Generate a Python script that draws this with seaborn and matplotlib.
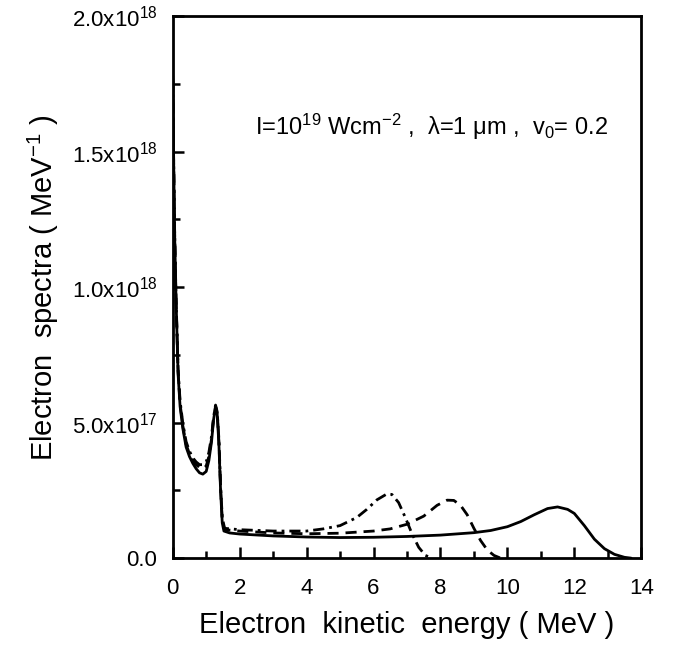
import numpy as np
import pandas as pd
import matplotlib
matplotlib.use("Agg")
import matplotlib.pyplot as plt
from matplotlib.ticker import MultipleLocator, FuncFormatter
import seaborn as sns

# spectra (energy in MeV, spectra in units of 1e18 MeV^-1)
e_solid = [0.0, 0.03, 0.06, 0.1, 0.16, 0.22, 0.3, 0.4, 0.5, 0.6, 0.7, 0.8, 0.9, 1.0, 1.08, 1.16,
           1.22, 1.28, 1.33, 1.38, 1.43, 1.48, 1.53, 1.7, 2.0, 3.0, 4.0, 5.0, 6.0, 7.0, 8.0, 9.0,
           9.5, 10.0, 10.4, 10.8, 11.2, 11.5, 11.8, 12.0, 12.3, 12.6, 12.9, 13.2, 13.5, 13.7]
f_solid = [1.78, 1.45, 1.18, 0.95, 0.68, 0.56, 0.48, 0.41, 0.375, 0.35, 0.33, 0.315, 0.31, 0.32, 0.36, 0.43,
           0.51, 0.56, 0.53, 0.42, 0.25, 0.13, 0.10, 0.093, 0.089, 0.082, 0.078, 0.076, 0.077, 0.080, 0.085, 0.094,
           0.102, 0.116, 0.135, 0.16, 0.183, 0.189, 0.18, 0.165, 0.12, 0.07, 0.035, 0.014, 0.003, 0.0]

e_dash = [0.0, 0.03, 0.06, 0.1, 0.16, 0.22, 0.3, 0.4, 0.5, 0.6, 0.7, 0.8, 0.9, 1.0, 1.08, 1.16,
          1.22, 1.28, 1.33, 1.38, 1.43, 1.48, 1.55, 2.0, 3.0, 4.0, 5.0, 6.0, 6.5, 7.0, 7.5, 7.9,
          8.2, 8.4, 8.6, 8.8, 9.0, 9.2, 9.4, 9.6, 9.8]
f_dash = [1.76, 1.44, 1.18, 0.95, 0.69, 0.57, 0.49, 0.42, 0.385, 0.36, 0.345, 0.335, 0.33, 0.34, 0.375, 0.44,
          0.515, 0.56, 0.535, 0.43, 0.26, 0.14, 0.105, 0.10, 0.093, 0.09, 0.092, 0.10, 0.108, 0.125, 0.155, 0.195,
          0.214, 0.213, 0.195, 0.16, 0.11, 0.065, 0.03, 0.01, 0.0]

e_dashdot = [0.0, 0.03, 0.06, 0.1, 0.16, 0.22, 0.3, 0.4, 0.5, 0.6, 0.7, 0.8, 0.9, 1.0, 1.08, 1.16,
             1.22, 1.28, 1.33, 1.38, 1.43, 1.48, 1.55, 2.0, 3.0, 4.0, 4.5, 5.0, 5.5, 5.8, 6.1, 6.4,
             6.55, 6.75, 6.95, 7.15, 7.35, 7.55, 7.75]
f_dashdot = [1.77, 1.45, 1.19, 0.96, 0.70, 0.58, 0.50, 0.43, 0.395, 0.37, 0.355, 0.345, 0.345, 0.355, 0.39, 0.45,
             0.52, 0.565, 0.54, 0.44, 0.27, 0.15, 0.11, 0.105, 0.10, 0.10, 0.108, 0.12, 0.15, 0.18, 0.215, 0.237,
             0.235, 0.205, 0.15, 0.09, 0.04, 0.01, 0.0]

sns.set_style("ticks")
plt.rcParams['font.family'] = ['Liberation Sans', 'DejaVu Sans']
plt.rcParams['mathtext.fontset'] = 'custom'
plt.rcParams['mathtext.rm'] = 'Liberation Sans'
plt.rcParams['mathtext.it'] = 'Liberation Sans:italic'
plt.rcParams['mathtext.default'] = 'regular'
plt.rcParams['text.color'] = 'black'
plt.rcParams['axes.labelcolor'] = 'black'
plt.rcParams['xtick.color'] = 'black'
plt.rcParams['ytick.color'] = 'black'

fig = plt.figure(figsize=(6.8, 6.49), dpi=100)
ax = fig.add_axes([0.254, 0.140, 0.689, 0.835])

scale = 1e18
sns.lineplot(x=e_solid, y=np.array(f_solid) * scale, ax=ax, color='black', lw=2.0)
sns.lineplot(x=e_dash, y=np.array(f_dash) * scale, ax=ax, color='black', lw=2.0,
             linestyle=(0, (4, 2.5)))
sns.lineplot(x=e_dashdot, y=np.array(f_dashdot) * scale, ax=ax, color='black', lw=2.0,
             linestyle=(0, (4, 1.8, 1, 1.8)))

ax.set_xlim(0, 14)
ax.set_ylim(0, 2.0e18)
ax.xaxis.set_major_locator(MultipleLocator(2))
ax.xaxis.set_minor_locator(MultipleLocator(1))
ax.yaxis.set_major_locator(MultipleLocator(0.5e18))
ax.yaxis.set_minor_locator(MultipleLocator(0.25e18))


def ylab(v, pos):
    if v <= 0:
        return '0.0'
    exp = int(np.floor(np.log10(v)))
    return '%.1fx10$^{%d}$' % (v / 10 ** exp, exp)


ax.yaxis.set_major_formatter(FuncFormatter(ylab))
ax.tick_params(which='both', direction='in', width=1.8, top=False, right=False, labelsize=16)
ax.tick_params(which='major', length=8)
ax.tick_params(which='minor', length=5)
ax.tick_params(axis='x', which='major', pad=14)
ax.tick_params(axis='y', which='major', pad=11)
for s in ax.spines.values():
    s.set_linewidth(2.0)
    s.set_color('black')
    s.set_visible(True)

ax.set_xlabel('Electron  kinetic  energy ( MeV )', fontsize=21, labelpad=9)
ax.set_ylabel('Electron  spectra ( MeV$^{-1}$ )', fontsize=21, labelpad=8)

ax.text(7.72, 1.59e18, 'I=10$^{19}$ Wcm$^{-2}$ ,  λ=1 μm ,  v$_0$= 0.2', fontsize=17,
        ha='center', va='center')

fig.savefig('out.png', dpi=100)
